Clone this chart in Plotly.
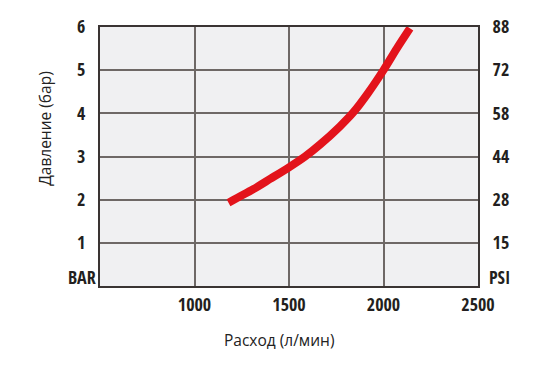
import plotly.graph_objects as go

flow = [1180, 1310, 1400, 1500, 1585, 1665, 1770, 1840, 1920, 2000, 2070, 2140]
pressure_bar = [1.93, 2.24, 2.48, 2.75, 3.0, 3.28, 3.70, 4.02, 4.48, 5.0, 5.5, 5.97]

bar_ticks = [1, 2, 3, 4, 5, 6]
psi_labels = ["15", "28", "44", "58", "72", "88"]
x_ticks = [1000, 1500, 2000, 2500]

tick_font = dict(family="Open Sans Condensed, DejaVu Sans Condensed", size=18, color="#231f20", weight="bold")
title_font = dict(family="Open Sans, Noto Sans", size=15.5, color="#222")
grid_col = "#6e6866"
frame_col = "#3a3433"

fig = go.Figure()
fig.add_trace(go.Scatter(x=flow, y=pressure_bar, mode="lines",
                         line=dict(color="#e3131b", width=8, shape="spline", smoothing=0.8),
                         showlegend=False, hoverinfo="skip"))
fig.add_trace(go.Scatter(x=flow, y=pressure_bar, yaxis="y2", mode="lines", line=dict(width=0),
                         showlegend=False, hoverinfo="skip", opacity=0))

fig.update_layout(
    width=525, height=362,
    margin=dict(l=92, r=55, t=19, b=84),
    paper_bgcolor="white", plot_bgcolor="#f0f0f2",
    xaxis=dict(range=[500, 2500], tickvals=x_ticks, ticktext=[str(v) for v in x_ticks],
               showgrid=True, gridcolor=grid_col, gridwidth=1.5, showline=True, linecolor=frame_col,
               linewidth=2, mirror=True, tickfont=tick_font, ticks="outside", ticklen=1,
               tickcolor="rgba(0,0,0,0)", zeroline=False, automargin=False),
    yaxis=dict(range=[0, 6], tickvals=bar_ticks, ticktext=[str(v) for v in bar_ticks],
               showgrid=True, gridcolor=grid_col, gridwidth=1.5, showline=True, linecolor=frame_col,
               linewidth=2, mirror=True, tickfont=tick_font, ticks="outside", ticklen=9,
               tickcolor="rgba(0,0,0,0)", zeroline=False, automargin=False),
    yaxis2=dict(range=[0, 6], overlaying="y", side="right", tickvals=bar_ticks, ticktext=psi_labels,
                showgrid=False, tickfont=tick_font, ticks="outside", ticklen=10,
                tickcolor="rgba(0,0,0,0)", zeroline=False, showline=False, automargin=False),
    annotations=[
        dict(text="BAR", xref="paper", yref="paper", x=-0.048, y=0.035, showarrow=False,
             font=tick_font, xanchor="center", yanchor="middle"),
        dict(text="PSI", xref="paper", yref="paper", x=1.058, y=0.035, showarrow=False,
             font=tick_font, xanchor="center", yanchor="middle"),
        dict(text="Давление (бар)", xref="paper", yref="paper", x=-0.146, y=0.61, showarrow=False,
             textangle=-90, font=title_font, xanchor="center", yanchor="middle"),
        dict(text="Расход (л/мин)", xref="paper", yref="paper", x=0.473, y=-0.208, showarrow=False,
             font=title_font, xanchor="center", yanchor="middle"),
    ],
)

fig.write_html("out.html")
